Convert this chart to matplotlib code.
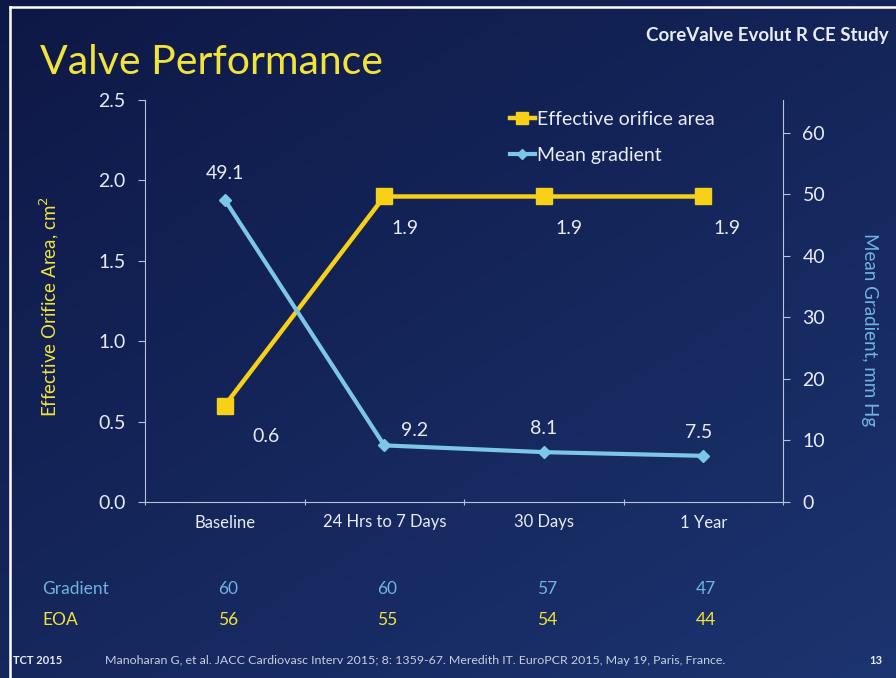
import numpy as np
import matplotlib
matplotlib.use("Agg")
import matplotlib.pyplot as plt
from matplotlib.lines import Line2D

# ---- data ----
categories = ["Baseline", "24 Hrs to 7 Days", "30 Days", "1 Year"]
eoa = [0.6, 1.9, 1.9, 1.9]
gradient = [49.1, 9.2, 8.1, 7.5]
n_gradient = [60, 60, 57, 47]
n_eoa = [56, 55, 54, 44]
left_ticks = [0.0, 0.5, 1.0, 1.5, 2.0, 2.5]
right_ticks = [0, 10, 20, 30, 40, 50, 60]

YELLOW = "#F7D117"
BLUE = "#7CC6E8"
TITLE_YELLOW = "#F2E33A"
LABEL_BLUE = "#6FB3E3"
TEXT = "#E8ECF4"
AXIS = "#B8C2D8"

FONT = ["Lato", "DejaVu Sans"]
plt.rcParams["font.family"] = FONT

fig = plt.figure(figsize=(8.96, 6.78), dpi=100)

# slide background: dark navy diagonal gradient
bg = fig.add_axes([0, 0, 1, 1], zorder=-10)
h, w = 200, 260
yy, xx = np.mgrid[0:h, 0:w]
t = (xx / w * 0.45 + yy / h * 0.55)
c0 = np.array([14, 24, 70]) / 255
c1 = np.array([28, 52, 112]) / 255
img = c0[None, None, :] * (1 - t[..., None]) + c1[None, None, :] * t[..., None]
bg.imshow(img, aspect="auto", extent=[0, 1, 0, 1], origin="upper")
bg.set_xlim(0, 1)
bg.set_ylim(0, 1)
bg.axis("off")

# white frame lines along top and left
fig.add_artist(Line2D([10 / 896, 1], [1 - 7 / 678, 1 - 7 / 678], color="white", lw=1.8))
fig.add_artist(Line2D([10 / 896, 10 / 896], [0, 1 - 7 / 678], color="white", lw=1.8))

# ---- chart ----
x = np.arange(len(categories))
ax = fig.add_axes([145 / 896, 1 - 502 / 678, (783 - 145) / 896, (502 - 100) / 678])
ax.patch.set_alpha(0)
ax2 = ax.twinx()
ax2.patch.set_alpha(0)

ax.plot(x, eoa, color=YELLOW, lw=3.2, marker="s", ms=11, mec=YELLOW, mfc=YELLOW, zorder=3)
ax2.plot(x, gradient, color=BLUE, lw=3.0, marker="D", ms=6, mec=BLUE, mfc=BLUE, zorder=3)

ax.set_xlim(-0.5, len(categories) - 0.5)
ax.set_ylim(0, 2.5)
ax2.set_ylim(0, 65.3)
ax.set_yticks(left_ticks)
ax.set_yticklabels([f"{v:.1f}" for v in left_ticks])
ax2.set_yticks(right_ticks)
ax2.set_yticklabels([str(v) for v in right_ticks])

# category boundary ticks on x axis, labels at the centers
ax.set_xticks(np.arange(-0.5, len(categories)), minor=False)
ax.set_xticklabels([])
ax.set_xticks(x, minor=True)
ax.set_xticklabels(categories, minor=True, fontsize=12, color=TEXT)
ax.tick_params(axis="x", which="minor", length=0, pad=9)
ax.tick_params(axis="x", which="major", length=5, color=AXIS, direction="inout")

for a in (ax, ax2):
    for s in a.spines.values():
        s.set_visible(False)
ax.spines["left"].set_visible(True)
ax.spines["left"].set_color(AXIS)
ax.spines["bottom"].set_visible(True)
ax.spines["bottom"].set_color(AXIS)
ax2.spines["right"].set_visible(True)
ax2.spines["right"].set_color(AXIS)

ax.tick_params(axis="y", colors=AXIS, labelcolor=TEXT, labelsize=14, length=5, pad=9)
ax2.tick_params(axis="y", colors=AXIS, labelcolor=TEXT, labelsize=14, length=5, pad=9)

ax.set_ylabel("Effective Orifice Area, cm$^2$", color=TITLE_YELLOW, fontsize=13.5)
ax.yaxis.set_label_coords(-(145 - 61) / 638, (502 - 307) / 402)
ax2.set_ylabel("Mean Gradient, mm Hg", color=LABEL_BLUE, fontsize=13.5, rotation=-90)
ax2.yaxis.set_label_coords(1 + (878 - 783) / 638, (502 - 330) / 402)

# value labels
eoa_off = [(30, -22), (15, -23), (18, -23), (17, -23)]
grad_off = [(0, 19), (22, 11), (0, 17), (-3, 17)]
for i, v in enumerate(eoa):
    ax.annotate(f"{v:.1f}", (x[i], v), xytext=eoa_off[i], textcoords="offset points",
                ha="center", va="center", color=TEXT, fontsize=14)
for i, v in enumerate(gradient):
    ax2.annotate(f"{v:.1f}", (x[i], v), xytext=grad_off[i], textcoords="offset points",
                 ha="center", va="center", color=TEXT, fontsize=14)

# legend
handles = [
    Line2D([], [], color=YELLOW, lw=3.2, marker="s", ms=9, mfc=YELLOW, mec=YELLOW),
    Line2D([], [], color=BLUE, lw=3.0, marker="D", ms=5, mfc=BLUE, mec=BLUE),
]
leg = ax.legend(handles, ["Effective orifice area", "Mean gradient"],
                loc="upper left", bbox_to_anchor=(0.555, 1.0), frameon=False,
                fontsize=14, labelcolor=TEXT, handlelength=1.3, handletextpad=0.1,
                labelspacing=1.0, borderaxespad=0.15)

# title and header
fig.text(40 / 896, 1 - 62 / 678, "Valve Performance", color=TITLE_YELLOW,
         fontsize=29.5, va="center", ha="left")
fig.text(889 / 896, 1 - 36 / 678, "CoreValve Evolut R CE Study", color=TEXT,
         fontsize=13.5, fontweight="bold", va="center", ha="right")

# patient counts beneath the chart
def fig_x(i):
    return ax.transData.transform((i, 0))[0] / fig.bbox.width

fig.text(42 / 896, 1 - 589 / 678, "Gradient", color=LABEL_BLUE, fontsize=12.5,
         va="center", ha="left")
fig.text(42 / 896, 1 - 620 / 678, "EOA", color=TITLE_YELLOW, fontsize=12.5,
         va="center", ha="left")
for i in range(len(categories)):
    fig.text(fig_x(i) + 3 / 896, 1 - 589 / 678, str(n_gradient[i]), color=LABEL_BLUE,
             fontsize=12.5, va="center", ha="center")
    fig.text(fig_x(i) + 3 / 896, 1 - 620 / 678, str(n_eoa[i]), color=TITLE_YELLOW,
             fontsize=12.5, va="center", ha="center")

# footer
fig.text(13 / 896, 1 - 661 / 678, "TCT 2015", color=TEXT, fontsize=8,
         fontweight="bold", va="center", ha="left")
fig.text(105 / 896, 1 - 661 / 678,
         "Manoharan G, et al. JACC Cardiovasc Interv 2015; 8: 1359-67. Meredith IT. EuroPCR 2015, May 19, Paris, France.",
         color="#C8CFDF", fontsize=8.9, va="center", ha="left")
fig.text(876 / 896, 1 - 661 / 678, "13", color=TEXT, fontsize=8,
         fontweight="bold", va="center", ha="center")

fig.savefig("out.png", dpi=100, facecolor=fig.get_facecolor())
